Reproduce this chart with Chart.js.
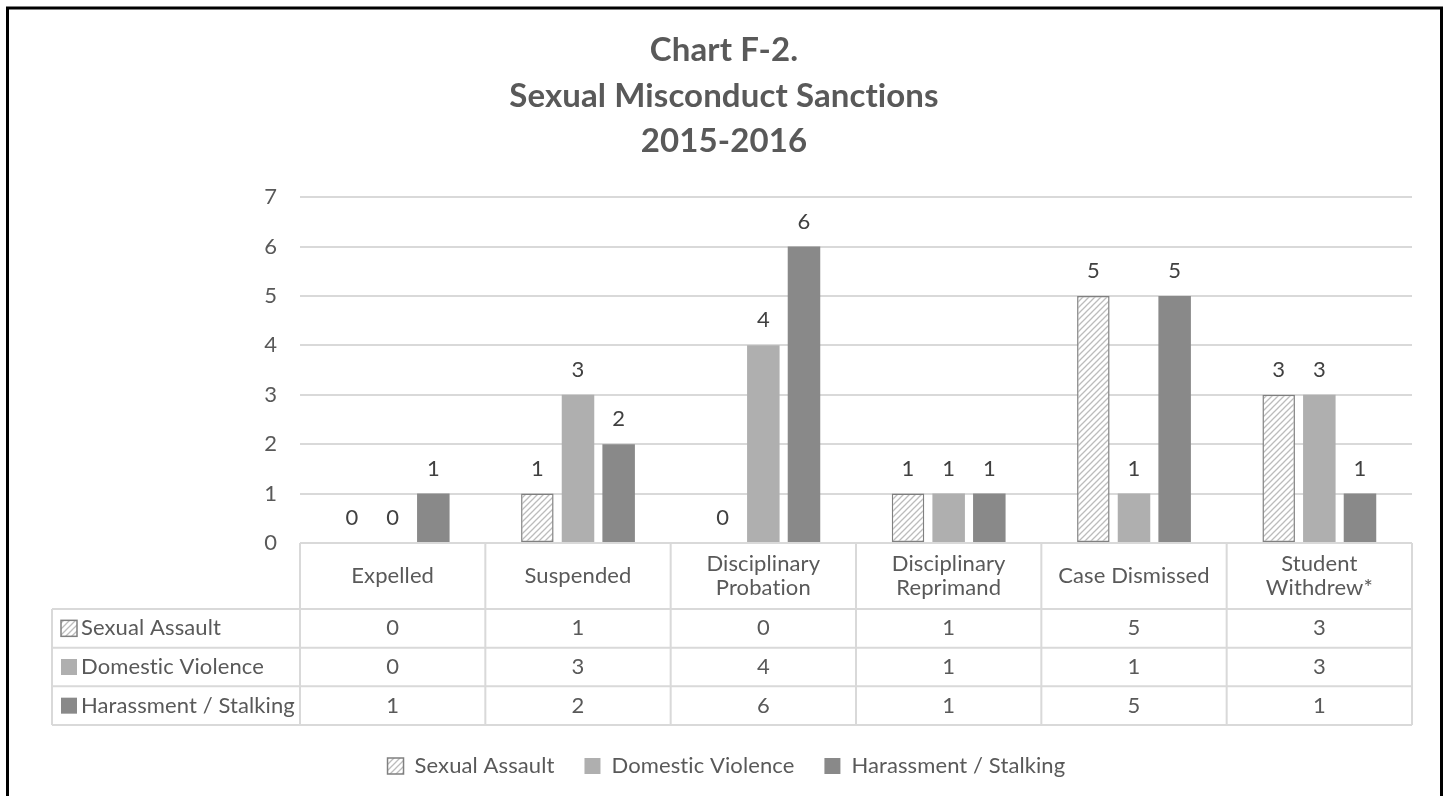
<!DOCTYPE html>
<html><head><meta charset="utf-8">
<script src="https://cdn.jsdelivr.net/npm/chart.js@4.4.0/dist/chart.umd.min.js"></script>
<style>html,body{margin:0;padding:0;background:#fff;} canvas{display:block;}</style>
</head><body>
<canvas id="c" width="1448" height="796"></canvas>
<script>
const categories = ['Expelled', 'Suspended', ['Disciplinary', 'Probation'], ['Disciplinary', 'Reprimand'], 'Case Dismissed', ['Student', 'Withdrew*']];
const seriesNames = ['Sexual Assault', 'Domestic Violence', 'Harassment / Stalking'];
const sexualAssault = [0, 1, 0, 1, 5, 3];
const domesticViolence = [0, 3, 4, 1, 1, 3];
const harassmentStalking = [1, 2, 6, 1, 5, 1];
const titleLines = ['Chart F-2.', 'Sexual Misconduct Sanctions', '2015-2016'];

const FONT = 'Lato';
const TEXT = '#595959';
const LINE = '#d9d9d9';

const canvas = document.getElementById('c');
const mainCtx = canvas.getContext('2d');
function makeHatch() {
  const c = document.createElement('canvas');
  c.width = 6; c.height = 6;
  const g = c.getContext('2d');
  g.fillStyle = '#ffffff'; g.fillRect(0, 0, 6, 6);
  g.strokeStyle = '#bcbcbc'; g.lineWidth = 1.3;
  g.beginPath();
  g.moveTo(-1, 7); g.lineTo(7, -1);
  g.moveTo(-4, 4); g.lineTo(4, -4);
  g.moveTo(2, 10); g.lineTo(10, 2);
  g.stroke();
  return mainCtx.createPattern(c, 'repeat');
}
const hatch = makeHatch();

const seriesStyles = [
  { backgroundColor: hatch, borderColor: '#808080', borderWidth: 1.5 },
  { backgroundColor: '#afafaf', borderColor: '#afafaf', borderWidth: 0 },
  { backgroundColor: '#898989', borderColor: '#898989', borderWidth: 0 }
];
const seriesValues = [sexualAssault, domesticViolence, harassmentStalking];

const datasets = seriesNames.map((name, i) => Object.assign({
  label: name,
  data: seriesValues[i],
  borderSkipped: false,
  categoryPercentage: 0.658,
  barPercentage: 0.8
}, seriesStyles[i]));

const chartPlugin = {
  id: 'tableAndLabels',
  beforeDraw(chart) {
    const ctx = chart.ctx;
    try { ctx.letterSpacing = '0.1px'; } catch (e) {}
    ctx.save();
    ctx.fillStyle = '#ffffff';
    ctx.fillRect(0, 0, chart.width, chart.height);
    ctx.restore();
  },
  afterDatasetsDraw(chart) {
    const ctx = chart.ctx;
    ctx.save();
    ctx.font = '22px ' + FONT;
    ctx.fillStyle = '#404040';
    ctx.textAlign = 'center';
    ctx.textBaseline = 'middle';
    chart.data.datasets.forEach((ds, di) => {
      const meta = chart.getDatasetMeta(di);
      meta.data.forEach((el, i) => {
        ctx.fillText(String(ds.data[i]), el.x, el.y - 25);
      });
    });
    ctx.restore();
  },
  afterDraw(chart) {
    const ctx = chart.ctx;
    const a = chart.chartArea;
    const xs = chart.scales.x;
    const n = chart.data.labels.length;
    const cw = (a.right - a.left) / n;
    const tableBottom = xs.bottom;
    const rowTop0 = a.bottom + 66;
    const rowH = (tableBottom - rowTop0) / chart.data.datasets.length;
    const tableLeft = 52;
    ctx.save();
    ctx.strokeStyle = LINE;
    ctx.lineWidth = 2;
    ctx.beginPath();
    for (let k = 0; k <= n; k++) {
      const X = a.left + k * cw;
      ctx.moveTo(X, a.bottom); ctx.lineTo(X, tableBottom);
    }
    for (let r = 0; r <= chart.data.datasets.length; r++) {
      const Y = rowTop0 + r * rowH;
      ctx.moveTo(tableLeft, Y); ctx.lineTo(a.right, Y);
    }
    ctx.moveTo(tableLeft, rowTop0); ctx.lineTo(tableLeft, tableBottom);
    ctx.stroke();

    ctx.font = '22px ' + FONT;
    ctx.fillStyle = TEXT;
    ctx.textBaseline = 'middle';
    chart.data.datasets.forEach((ds, di) => {
      const cy = rowTop0 + di * rowH + rowH / 2;
      ctx.textAlign = 'center';
      ctx.fillStyle = TEXT;
      ds.data.forEach((v, i) => {
        ctx.fillText(String(v), xs.getPixelForValue(i), cy);
      });
      ctx.fillStyle = ds.backgroundColor;
      ctx.fillRect(61, cy - 8, 16, 16);
      if (ds.borderWidth) {
        ctx.lineWidth = 1.5;
        ctx.strokeStyle = ds.borderColor;
        ctx.strokeRect(61, cy - 8, 16, 16);
      }
      ctx.fillStyle = TEXT;
      ctx.textAlign = 'left';
      ctx.fillText(ds.label, 81, cy);
    });

    ctx.strokeStyle = '#000000';
    ctx.lineWidth = 3;
    ctx.strokeRect(7.5, 8, 1434, 1000);
    ctx.restore();
  }
};

new Chart(canvas, {
  type: 'bar',
  data: { labels: categories, datasets: datasets },
  options: {
    responsive: false,
    animation: false,
    devicePixelRatio: 1,
    layout: { padding: { top: 28, left: 0, right: 0, bottom: 9 } },
    plugins: {
      title: {
        display: true,
        text: titleLines,
        color: TEXT,
        font: { family: FONT, size: 33, weight: 'bold', lineHeight: 1.38 },
        padding: { top: 0, bottom: 32.5 }
      },
      legend: {
        display: true,
        position: 'bottom',
        labels: {
          boxWidth: 16, boxHeight: 16, padding: 30,
          color: TEXT,
          font: { family: FONT, size: 22 }
        }
      },
      tooltip: { enabled: false }
    },
    scales: {
      x: {
        grid: { display: false, drawTicks: false },
        border: { display: false },
        ticks: {
          color: TEXT, font: { family: FONT, size: 22, lineHeight: 1.1 },
          padding: 21, crossAlign: 'center', maxRotation: 0, minRotation: 0, autoSkip: false
        },
        afterFit(s) { s.height = 182; }
      },
      y: {
        min: 0, max: 7,
        grid: { color: LINE, lineWidth: 2, drawTicks: false },
        border: { display: false },
        ticks: { stepSize: 1, color: TEXT, font: { family: FONT, size: 22 }, padding: 23 },
        afterFit(s) { s.width = 300; }
      },
      y2: {
        position: 'right', display: true,
        grid: { display: false, drawTicks: false },
        border: { display: false },
        ticks: { display: false },
        afterFit(s) { s.width = 36; }
      }
    }
  },
  plugins: [chartPlugin]
});
</script>
</body></html>
